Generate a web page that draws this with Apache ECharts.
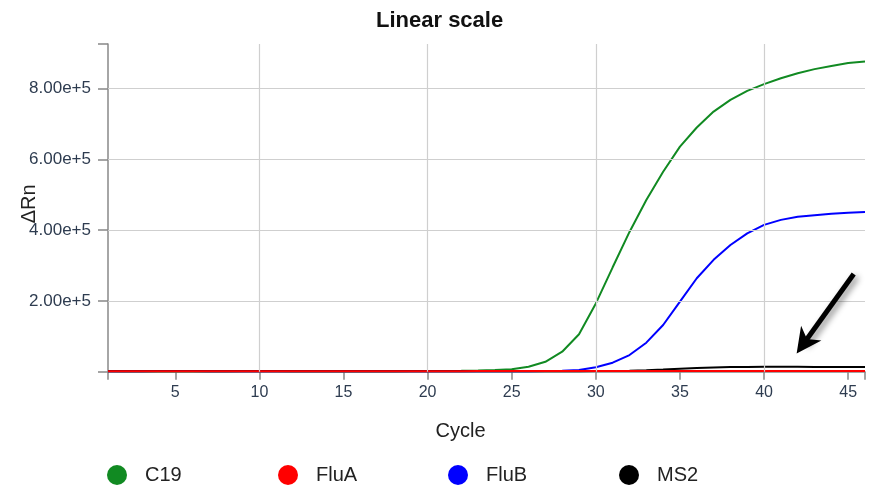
<!DOCTYPE html>
<html>
<head>
<meta charset="utf-8">
<script src="https://cdn.jsdelivr.net/npm/echarts@6/dist/echarts.min.js"></script>
<style>html,body{margin:0;padding:0;background:#fff}#c{width:872px;height:487px}</style>
</head>
<body>
<div id="c"></div>
<script>
// Cycle numbers 1..46
const cycles = [1,2,3,4,5,6,7,8,9,10,11,12,13,14,15,16,17,18,19,20,21,22,23,24,25,26,27,28,29,30,31,32,33,34,35,36,37,38,39,40,41,42,43,44,45,46];
const c19  = [1800,1600,1400,1300,1200,1200,1300,1500,1800,2200,1800,1500,1300,1200,1200,1300,1400,1500,1700,1900,2200,2700,3500,4800,7000,14000,28000,56500,106000,193000,295000,395000,485000,565000,636000,690000,735000,768000,793500,812500,829400,843500,855000,864000,872000,876400];
const fluA = [1600,1600,1500,1500,1500,1500,1500,1500,1500,1500,1500,1500,1500,1500,1500,1500,1600,1600,1600,1600,1600,1600,1700,1700,1700,1700,1700,1700,1700,1800,1800,1800,1800,1800,1800,1800,1800,1800,1800,1800,1900,1900,1900,1900,1900,1900];
const fluB = [1500,1500,1600,1800,2200,1800,1500,1300,1200,1200,1200,1200,1200,1200,1200,1200,1200,1300,1300,1300,1300,1400,1400,1400,1500,1600,1900,2600,5000,12400,25400,47000,82000,132000,198000,264000,316000,358000,391000,415000,429000,438000,442000,446000,449000,451000];
const ms2  = [1400,1400,1400,1400,1400,1400,1400,1400,1400,1400,1400,1400,1400,1400,1400,1400,1400,1400,1400,1400,1400,1400,1400,1400,1400,1400,1500,1500,1600,1700,2000,2800,4200,6300,8600,10600,12100,13100,13600,13800,13800,13700,13600,13400,13300,13100];
const xTickValues = [1,5,10,15,20,25,30,35,40,45,46];
const xLabelValues = [5,10,15,20,25,30,35,40,45];
const xGridValues = [10,20,30,40];
const yMax = 926000;
const yTickValues = [0,200000,400000,600000,800000,yMax];
const yLabelValues = [200000,400000,600000,800000];
const yGridValues = [200000,400000,600000,800000];
// annotation arrow: [cycle, value] tail and head centre
const arrowTail = [45.33, 276000];
const arrowHead = [42.37, 80300];

const names = ['C19','FluA','FluB','MS2'];
const colors = ['#118a22','#ff0000','#0000ff','#000000'];
const seriesData = [c19, fluA, fluB, ms2];
const legendLefts = [107, 278, 448, 619];

const FONT = '"Liberation Sans", Arial, Helvetica, sans-serif';
const pair = arr => cycles.map((c,i)=>[c, arr[i]]);

const series = [];
// gridlines (drawn beneath curves)
series.push({
  name: '_grid', type: 'line', data: pair(c19), symbol: 'none', silent: true, z: 1,
  lineStyle: { opacity: 0 },
  markLine: {
    silent: true, symbol: ['none','none'], label: { show: false }, animation: false,
    lineStyle: { color: '#cfcfcf', width: 1.2, type: 'solid' },
    data: xGridValues.map(v => ({ xAxis: v })).concat(yGridValues.map(v => ({ yAxis: v })))
  }
});
const order = [0,2,3,1];
order.forEach(i => {
  series.push({
    name: names[i], type: 'line', data: pair(seriesData[i]), symbol: 'none', z: 3,
    lineStyle: { color: colors[i], width: 2 }, itemStyle: { color: colors[i] },
    animation: false
  });
});
// arrow annotation
series.push({
  name: '_arrow', type: 'line', data: [], symbol: 'none', silent: true, z: 6,
  markLine: {
    silent: true, animation: false,
    symbol: ['none', 'path://M0,0 L12,24 L0,17 L-12,24 Z'], symbolSize: 25,
    label: { show: false },
    lineStyle: { color: '#000', width: 5, type: 'solid', shadowBlur: 6, shadowColor: 'rgba(0,0,0,0.45)', shadowOffsetX: 3, shadowOffsetY: 3 },
    data: [[{ coord: arrowTail }, { coord: arrowHead }]]
  }
});

const legends = names.map((n, i) => ({
  data: [n], left: legendLefts[i], top: 465, padding: 0, itemWidth: 20, itemHeight: 20,
  icon: 'circle', selectedMode: false,
  textStyle: { fontFamily: FONT, fontSize: 20, color: '#222', padding: [0,0,0,13] }
}));

const chart = echarts.init(document.getElementById('c'), null, { renderer: 'canvas' });
chart.setOption({
  animation: false,
  backgroundColor: '#fff',
  title: {
    text: 'Linear scale', left: 376, top: 10, padding: 0,
    textStyle: { fontFamily: FONT, fontSize: 22, fontWeight: 'bold', color: '#111' }
  },
  legend: legends,
  grid: { left: 108, right: 7, top: 44, bottom: 115.3, containLabel: false, outerBoundsMode: 'none' },
  xAxis: {
    type: 'value', min: 1, max: 46,
    name: 'Cycle', nameLocation: 'middle', nameGap: 50, nameMoveOverlap: false,
    nameTextStyle: { fontFamily: FONT, fontSize: 20, color: '#222', padding: [0,52,0,0] },
    axisLine: { show: true, onZero: false, lineStyle: { color: '#888', width: 1.5 } },
    axisTick: { show: true, length: 8, customValues: xTickValues, lineStyle: { color: '#888', width: 1.5 } },
    axisLabel: { customValues: xLabelValues, margin: 13, fontFamily: FONT, fontSize: 16, color: '#2e3c50' },
    splitLine: { show: false }
  },
  yAxis: {
    type: 'value', min: 0, max: yMax,
    name: 'ΔRn', nameLocation: 'middle', nameGap: 69, nameRotate: 90, nameMoveOverlap: false,
    nameTextStyle: { fontFamily: FONT, fontSize: 20, color: '#222', padding: [0,0,0,8] },
    axisLine: { show: true, lineStyle: { color: '#888', width: 1.5 } },
    axisTick: { show: true, length: 10, customValues: yTickValues, lineStyle: { color: '#888', width: 1.5 } },
    axisLabel: {
      customValues: yLabelValues, margin: 17, fontFamily: FONT, fontSize: 17, color: '#2e3c50',
      formatter: v => Number(v).toExponential(2)
    },
    splitLine: { show: false }
  },
  series: series
});
</script>
</body>
</html>
